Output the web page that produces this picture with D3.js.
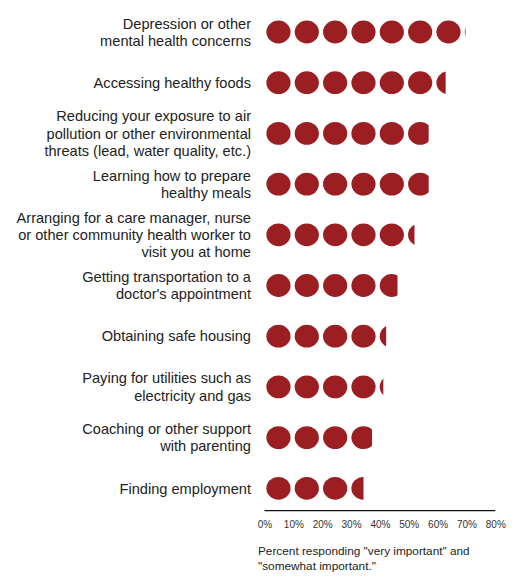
<!DOCTYPE html>
<html>
<head>
<meta charset="utf-8">
<script src="https://cdn.jsdelivr.net/npm/d3@7"></script>
<style>
  html, body { margin: 0; padding: 0; background: #fff; }
  svg { display: block; }
  text { font-family: "Liberation Sans", Arial, Helvetica, sans-serif; }
</style>
</head>
<body>
<svg id="chart" width="521" height="578"></svg>
<script>
// ---- Data ----
const categories = [
  ["Depression or other", "mental health concerns"],
  ["Accessing healthy foods"],
  ["Reducing your exposure to air", "pollution or other environmental", "threats (lead, water quality, etc.)"],
  ["Learning how to prepare", "healthy meals"],
  ["Arranging for a care manager, nurse", "or other community health worker to", "visit you at home"],
  ["Getting transportation to a", "doctor's appointment"],
  ["Obtaining safe housing"],
  ["Paying for utilities such as", "electricity and gas"],
  ["Coaching or other support", "with parenting"],
  ["Finding employment"]
];
const values = [71, 64, 58, 58, 53, 47, 43, 42, 38, 35];
const tickValues = [0, 10, 20, 30, 40, 50, 60, 70, 80];
const unitPerDot = 10;
const footnote = ["Percent responding \"very important\" and", "\"somewhat important.\""];

// ---- Layout ----
const svg = d3.select("#chart");
const color = "#9b1e22";

const axisX = d3.scaleLinear().domain([0, 80]).range([264.5, 495.3]);
const dotX = d3.scaleLinear().domain([0, 80]).range([264.3, 491.0]);
const y = d3.scalePoint().domain(d3.range(categories.length)).range([32, 488.3]);

const rx = 12.1, ry = 11.4;

// clip paths for each row
const defs = svg.append("defs");
values.forEach((v, i) => {
  defs.append("clipPath").attr("id", "clip" + i)
    .append("rect")
    .attr("x", dotX(0))
    .attr("y", y(i) - 20)
    .attr("width", dotX(v) - dotX(0))
    .attr("height", 40);
});

const rows = svg.append("g").selectAll("g.row")
  .data(values)
  .join("g")
  .attr("class", "row")
  .attr("clip-path", (d, i) => `url(#clip${i})`);

rows.each(function(v, i) {
  const n = Math.ceil(v / unitPerDot);
  d3.select(this).selectAll("ellipse")
    .data(d3.range(n))
    .join("ellipse")
    .attr("cx", k => dotX(k * unitPerDot + unitPerDot / 2))
    .attr("cy", y(i))
    .attr("rx", rx)
    .attr("ry", ry)
    .attr("fill", color);
});

// labels
const lineH = 17.3;
const labels = svg.append("g").selectAll("text.label")
  .data(categories)
  .join("text")
  .attr("class", "label")
  .attr("text-anchor", "end")
  .attr("font-size", 14.6)
  .attr("fill", "#222");
labels.each(function(lines, i) {
  const t = d3.select(this);
  const first = y(i) - (lines.length - 1) * lineH / 2 + 5.2;
  lines.forEach((ln, j) => {
    t.append("tspan").attr("x", 251).attr("y", first + j * lineH).text(ln);
  });
});

// axis
const axisY = 510.7;
const axis = d3.axisBottom(axisX).tickValues(tickValues).tickFormat(d => d + "%").tickSize(0).tickPadding(10);
const ag = svg.append("g").attr("transform", `translate(0,${axisY})`).call(axis);
ag.select(".domain").attr("stroke", "#111").attr("stroke-width", 1.3).attr("d", `M${axisX(0)},0H${axisX(80)}`);
ag.selectAll(".tick text")
  .attr("font-family", "\"Liberation Sans\", Arial, sans-serif")
  .attr("font-size", 10)
  .attr("fill", "#333");

// footnote
const fn = svg.append("text").attr("font-size", 11.8).attr("fill", "#222");
footnote.forEach((ln, j) => {
  fn.append("tspan").attr("x", 258).attr("y", 554.5 + j * 15).text(ln);
});
</script>
</body>
</html>
